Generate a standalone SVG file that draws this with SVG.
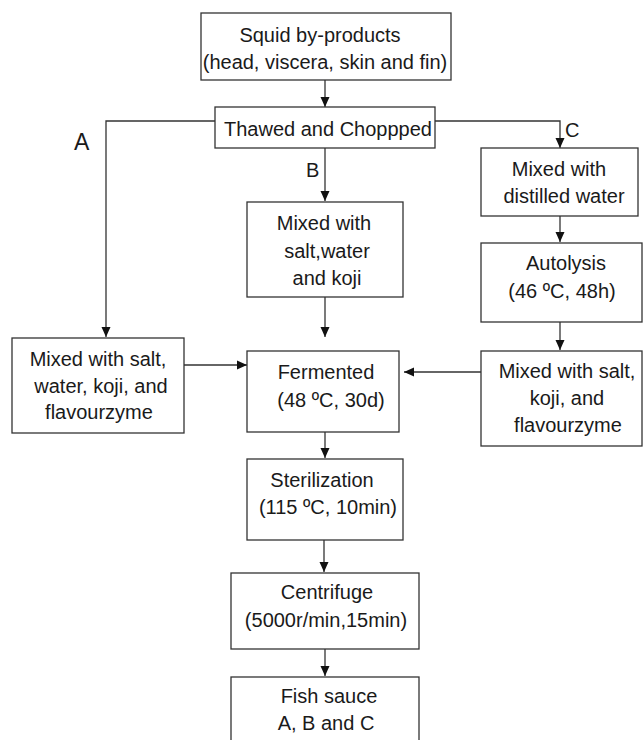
<svg xmlns="http://www.w3.org/2000/svg" width="643" height="740" viewBox="0 0 643 740">
<defs>
<marker id="arr" markerUnits="userSpaceOnUse" markerWidth="10" markerHeight="10" viewBox="0 0 10 10" refX="10" refY="5" orient="auto">
<path d="M0,0.5 L10,5 L0,9.5 z" fill="#111"/>
</marker>
</defs>
<style>
.box{fill:#fff;stroke:#333;stroke-width:1.3}
.t{font-family:"Liberation Sans",Arial,sans-serif;font-size:20px;fill:#1a1a1a;text-anchor:middle}
.lbl{font-family:"Liberation Sans",Arial,sans-serif;font-size:20px;fill:#1a1a1a}
.c{fill:none;stroke:#333;stroke-width:1.3}
.ca{fill:none;stroke:#333;stroke-width:1.3;marker-end:url(#arr)}
</style>
<rect width="643" height="740" fill="#fff"/>
<g id="connectors">
<line class="ca" x1="325" y1="80" x2="325" y2="107"/>
<polyline class="ca" points="215,121 106,121 106,337"/>
<line class="ca" x1="325" y1="148" x2="325" y2="201"/>
<polyline class="ca" points="435,121 560,121 560,148"/>
<line class="ca" x1="325" y1="297" x2="325" y2="337"/>
<line class="ca" x1="184" y1="365" x2="247" y2="365"/>
<line class="ca" x1="560" y1="216" x2="560" y2="242"/>
<line class="ca" x1="560" y1="322" x2="560" y2="350"/>
<line class="ca" x1="481" y1="372" x2="404" y2="372"/>
<line class="ca" x1="325" y1="432" x2="325" y2="458"/>
<line class="ca" x1="324" y1="540" x2="324" y2="572"/>
<line class="ca" x1="325" y1="649" x2="325" y2="676"/>
<text class="lbl" x="74" y="150" style="font-size:23px">A</text>
<text class="lbl" x="306" y="177">B</text>
<text class="lbl" x="565" y="137">C</text>
</g>
<g id="squid">
<rect class="box" x="201" y="13" width="250" height="67"/>
<text class="t" x="320" y="42">Squid by-products</text>
<text class="t" x="325" y="69">(head, viscera, skin and fin)</text>
</g>
<g id="thawed">
<rect class="box" x="215" y="107" width="220" height="41"/>
<text class="t" x="328" y="136">Thawed and Choppped</text>
</g>
<g id="mixA">
<rect class="box" x="12" y="338" width="172" height="95"/>
<text class="t" x="98" y="366">Mixed with salt,</text>
<text class="t" x="101" y="393">water, koji, and</text>
<text class="t" x="99" y="419">flavourzyme</text>
</g>
<g id="mixB">
<rect class="box" x="247" y="202" width="156" height="95"/>
<text class="t" x="324" y="230">Mixed with</text>
<text class="t" x="327" y="258">salt,water</text>
<text class="t" x="327" y="285">and koji</text>
</g>
<g id="mixC">
<rect class="box" x="481" y="148" width="157" height="68"/>
<text class="t" x="559" y="176">Mixed with</text>
<text class="t" x="564" y="203">distilled water</text>
</g>
<g id="autolysis">
<rect class="box" x="481" y="243" width="161" height="79"/>
<text class="t" x="566" y="270">Autolysis</text>
<text class="t" x="562" y="298">(46 ºC, 48h)</text>
</g>
<g id="mixC2">
<rect class="box" x="481" y="351" width="161" height="95"/>
<text class="t" x="567" y="378">Mixed with salt,</text>
<text class="t" x="567" y="405">koji, and</text>
<text class="t" x="568" y="432">flavourzyme</text>
</g>
<g id="fermented">
<rect class="box" x="247" y="351" width="152" height="81"/>
<text class="t" x="326" y="379">Fermented</text>
<text class="t" x="331" y="407">(48 ºC, 30d)</text>
</g>
<g id="sterilization">
<rect class="box" x="247" y="459" width="156" height="81"/>
<text class="t" x="322" y="487">Sterilization</text>
<text class="t" x="328" y="514">(115 ºC, 10min)</text>
</g>
<g id="centrifuge">
<rect class="box" x="231" y="573" width="188" height="76"/>
<text class="t" x="327" y="599">Centrifuge</text>
<text class="t" x="326" y="627">(5000r/min,15min)</text>
</g>
<g id="fish">
<rect class="box" x="231" y="677" width="188" height="70"/>
<text class="t" x="329" y="703">Fish sauce</text>
<text class="t" x="326" y="730">A, B and C</text>
</g>
</svg>
